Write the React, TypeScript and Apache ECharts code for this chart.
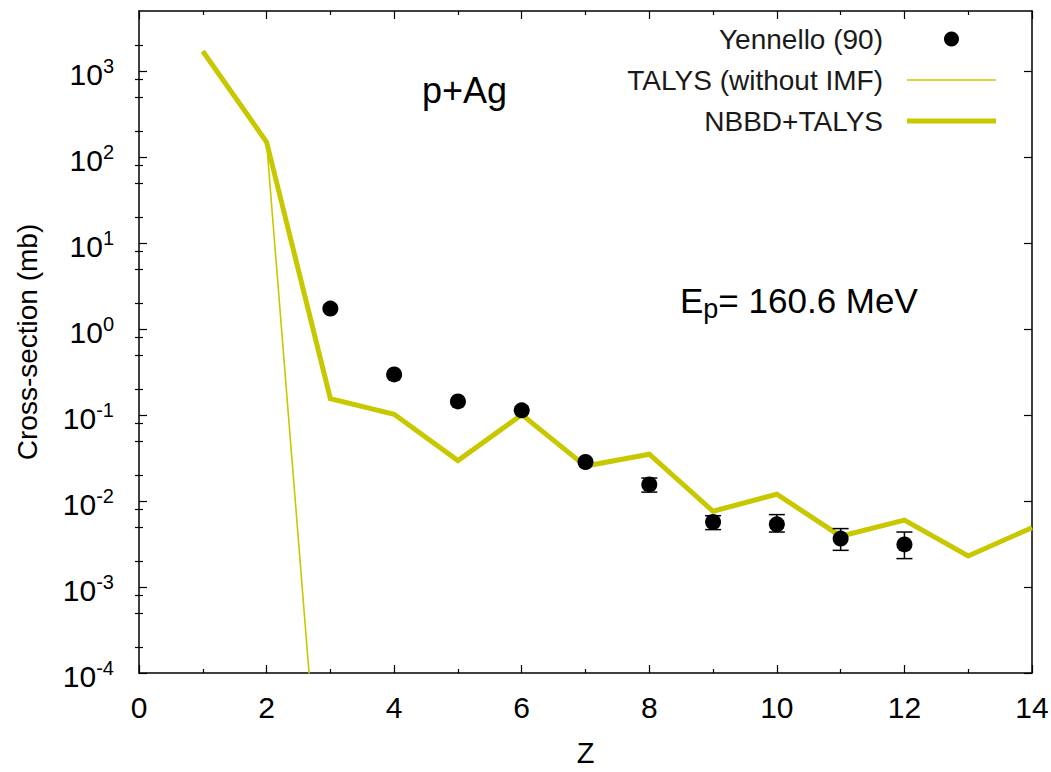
import React, { useEffect, useRef } from "react";
import * as echarts from "echarts";

// ---- data ----
const Z_EXP = [3, 4, 5, 6, 7, 8, 9, 10, 11, 12];
const SIGMA_EXP = [1.73, 0.297, 0.144, 0.1135, 0.0284, 0.0156, 0.0057, 0.00536, 0.00366, 0.00313];
const ERR_LOW = [null, null, null, null, null, 0.0127, 0.00465, 0.00436, 0.00267, 0.00214];
const ERR_HIGH = [null, null, null, null, null, 0.0185, 0.00675, 0.00695, 0.00478, 0.00436];

const Z_TALYS = [1, 2, 3];
const SIGMA_TALYS = [1700, 150, 8e-8];

const Z_NBBD = [1, 2, 3, 4, 5, 6, 7, 8, 9, 10, 11, 12, 13, 14];
const SIGMA_NBBD = [1700, 150, 0.155, 0.102, 0.0295, 0.101, 0.0255, 0.035, 0.0076, 0.012, 0.0039, 0.006, 0.0023, 0.0049];

const Y_MAJOR = [1e-4, 1e-3, 1e-2, 1e-1, 1, 10, 100, 1000];
const Y_MINOR = [
  2e-4, 5e-4, 8e-4, 2e-3, 5e-3, 8e-3, 2e-2, 5e-2, 8e-2, 0.2, 0.5, 0.8,
  2, 5, 8, 20, 50, 80, 200, 500, 800, 2000,
];
const Y_MIN = 1e-4;
const Y_MAX = 5000;
const X_MIN = 0;
const X_MAX = 14;
const X_INTERVAL = 2;

const NAME_EXP = "Yennello (90)";
const NAME_TALYS = "TALYS (without IMF)";
const NAME_NBBD = "NBBD+TALYS";

const FONT = "'Liberation Sans', Arial, Helvetica, sans-serif";
const YELLOW = "#c8c800";

export default function App() {
  const ref = useRef<HTMLDivElement>(null);

  useEffect(() => {
    if (!ref.current) return;
    const chart = echarts.init(ref.current, null, { renderer: "svg" });

    const axisLineStyle = { color: "#000", width: 1.5 };
    const tickStyle = { color: "#000", width: 1.2 };

    const yCommon = {
      type: "log",
      logBase: 10,
      min: Y_MIN,
      max: Y_MAX,
      splitLine: { show: false },
      minorSplitLine: { show: false },
    };

    const errData = Z_EXP.map((z, i) => [z, ERR_LOW[i], ERR_HIGH[i]]).filter(
      (d) => d[1] != null && d[2] != null
    );

    const option: any = {
      animation: false,
      backgroundColor: "#fff",
      grid: {
        left: 139,
        right: 19,
        top: 11,
        bottom: 99,
        containLabel: false,
        outerBoundsMode: "none",
      },
      xAxis: [
        {
          type: "value",
          min: X_MIN,
          max: X_MAX,
          interval: X_INTERVAL,
          position: "bottom",
          name: "Z",
          nameLocation: "middle",
          nameGap: 68,
          nameTextStyle: { fontSize: 29, lineHeight: 24, fontFamily: FONT, color: "#000" },
          axisLine: { show: true, onZero: false, lineStyle: axisLineStyle },
          axisTick: { show: true, inside: true, length: 8, lineStyle: tickStyle },
          minorTick: { show: true, splitNumber: 2, length: 4, lineStyle: tickStyle },
          axisLabel: { show: true, fontSize: 30, fontFamily: FONT, color: "#000", margin: 19 },
          splitLine: { show: false },
        },
        {
          type: "value",
          min: X_MIN,
          max: X_MAX,
          interval: X_INTERVAL,
          position: "top",
          axisLine: { show: true, onZero: false, lineStyle: axisLineStyle },
          axisTick: { show: true, inside: true, length: 8, lineStyle: tickStyle },
          minorTick: { show: true, splitNumber: 2, length: 4, lineStyle: tickStyle },
          axisLabel: { show: false },
          splitLine: { show: false },
        },
      ],
      yAxis: [
        {
          ...yCommon,
          position: "left",
          name: "Cross-section (mb)",
          nameLocation: "middle",
          nameRotate: 90,
          nameGap: 98,
          nameTextStyle: { fontSize: 28, fontFamily: FONT, color: "#000" },
          axisLine: { show: true, onZero: false, lineStyle: axisLineStyle },
          axisTick: { show: true, inside: true, length: 8, customValues: Y_MAJOR, lineStyle: tickStyle },
          axisLabel: {
            show: true,
            customValues: Y_MAJOR,
            margin: 25,
            formatter: (v: number) => `{b|10}{s|${Math.round(Math.log10(v))}}`,
            rich: {
              b: { fontSize: 30, fontFamily: FONT, color: "#000", lineHeight: 30, padding: [3, 0, 0, 0], verticalAlign: "top" },
              s: { fontSize: 20, fontFamily: FONT, color: "#000", lineHeight: 20, verticalAlign: "top" },
            },
          },
        },
        {
          ...yCommon,
          position: "left",
          axisLine: { show: false },
          axisTick: { show: true, inside: true, length: 4, customValues: Y_MINOR, lineStyle: tickStyle },
          axisLabel: { show: false },
        },
        {
          ...yCommon,
          position: "right",
          axisLine: { show: true, onZero: false, lineStyle: axisLineStyle },
          axisTick: { show: true, inside: true, length: 8, customValues: Y_MAJOR, lineStyle: tickStyle },
          axisLabel: { show: false },
        },
        {
          ...yCommon,
          position: "right",
          axisLine: { show: false },
          axisTick: { show: true, inside: true, length: 4, customValues: Y_MINOR, lineStyle: tickStyle },
          axisLabel: { show: false },
        },
      ],
      legend: {
        orient: "vertical",
        right: 55,
        top: 25,
        align: "right",
        padding: 0,
        itemWidth: 89,
        itemHeight: 15,
        itemGap: 13,
        selectedMode: false,
        textStyle: { fontSize: 28, fontFamily: FONT, color: "#1a1a1a", padding: [0, 19, 0, 0] },
        data: [
          { name: NAME_EXP, icon: "circle", itemStyle: { color: "#000", opacity: 1 } },
          { name: NAME_TALYS, icon: "path://M0 0H89V1.6H0Z", itemStyle: { color: YELLOW, opacity: 1 } },
          { name: NAME_NBBD, icon: "path://M0 0H89V5H0Z", itemStyle: { color: YELLOW, opacity: 1 } },
        ],
      },
      graphic: [
        {
          type: "text",
          x: 422,
          y: 90,
          style: {
            text: "p+Ag",
            fontSize: 36,
            fontFamily: FONT,
            fill: "#000",
            align: "left",
            verticalAlign: "middle",
            textAlign: "left",
            textVerticalAlign: "middle",
          },
        },
        {
          type: "text",
          x: 680,
          y: 300,
          style: {
            text: "{e|E}{s|p}{e|= 160.6 MeV}",
            fontSize: 35,
            fontFamily: FONT,
            fill: "#000",
            align: "left",
            verticalAlign: "middle",
            textAlign: "left",
            textVerticalAlign: "middle",
            rich: {
              e: { fontSize: 35, fontFamily: FONT, fill: "#000", lineHeight: 35, verticalAlign: "top" },
              s: { fontSize: 27, fontFamily: FONT, fill: "#000", lineHeight: 27, padding: [13, 0, 0, 0], verticalAlign: "top" },
            },
          },
        },
      ],
      series: [
        {
          name: "Yennello (90) error bars",
          type: "custom",
          xAxisIndex: 0,
          yAxisIndex: 0,
          z: 4,
          data: errData,
          renderItem: (params: any, api: any) => {
            const x = api.value(0);
            const lo = api.coord([x, api.value(1)]);
            const hi = api.coord([x, api.value(2)]);
            const hw = 8;
            const st = { stroke: "#000", lineWidth: 1.5 };
            return {
              type: "group",
              children: [
                { type: "line", shape: { x1: lo[0], y1: lo[1], x2: hi[0], y2: hi[1] }, style: st },
                { type: "line", shape: { x1: lo[0] - hw, y1: lo[1], x2: lo[0] + hw, y2: lo[1] }, style: st },
                { type: "line", shape: { x1: hi[0] - hw, y1: hi[1], x2: hi[0] + hw, y2: hi[1] }, style: st },
              ],
            };
          },
        },
        {
          name: NAME_TALYS,
          type: "line",
          xAxisIndex: 0,
          yAxisIndex: 0,
          z: 2,
          symbol: "none",
          clip: true,
          data: Z_TALYS.map((z, i) => [z, SIGMA_TALYS[i]]),
          lineStyle: { color: YELLOW, width: 1.6 },
          itemStyle: { color: YELLOW },
        },
        {
          name: NAME_NBBD,
          type: "line",
          xAxisIndex: 0,
          yAxisIndex: 0,
          z: 3,
          symbol: "none",
          clip: true,
          data: Z_NBBD.map((z, i) => [z, SIGMA_NBBD[i]]),
          lineStyle: { color: YELLOW, width: 5, join: "miter" },
          itemStyle: { color: YELLOW },
        },
        {
          name: NAME_EXP,
          type: "scatter",
          xAxisIndex: 0,
          yAxisIndex: 0,
          z: 5,
          symbol: "circle",
          symbolSize: 16,
          data: Z_EXP.map((z, i) => [z, SIGMA_EXP[i]]),
          itemStyle: { color: "#000", opacity: 1 },
        },
      ],
    };

    chart.setOption(option);
    return () => chart.dispose();
  }, []);

  return (
    <div
      ref={ref}
      style={{ position: "absolute", left: 0, top: 0, width: 1051, height: 772, background: "#fff" }}
    />
  );
}
